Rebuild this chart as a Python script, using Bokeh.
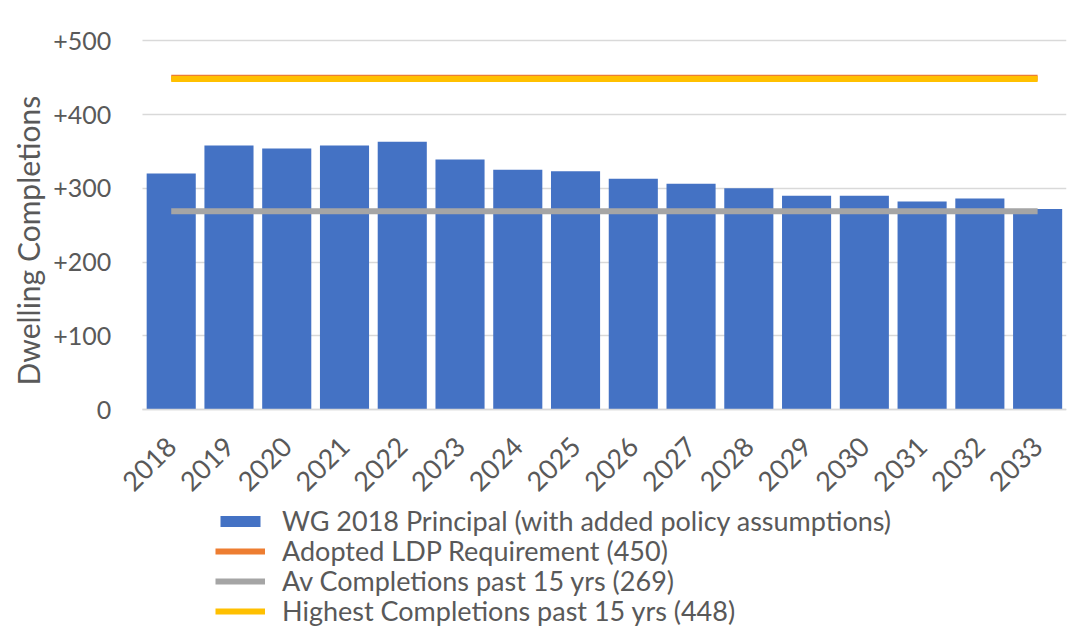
from math import pi
from bokeh.plotting import figure
from bokeh.models import Range1d, Legend, LegendItem, ColumnDataSource, Title, FixedTicker
from bokeh.embed import file_html
from bokeh.resources import INLINE

years = ["2018", "2019", "2020", "2021", "2022", "2023", "2024", "2025",
         "2026", "2027", "2028", "2029", "2030", "2031", "2032", "2033"]
wg_principal = [320, 358, 354, 358, 363, 339, 325, 323, 313, 306, 300, 290, 290, 282, 286, 272]
ldp_requirement = 450
av_completions = 269
highest_completions = 448
y_ticks = [0, 100, 200, 300, 400, 500]
y_tick_labels = ["0", "+100", "+200", "+300", "+400", "+500"]
legend_labels = ["WG 2018 Principal (with added policy assumptions)",
                 "Adopted LDP Requirement (450)",
                 "Av Completions past 15 yrs (269)",
                 "Highest Completions past 15 yrs (448)"]

FONT = "Lato"
TXT = "#595959"

idx = list(range(len(years)))
first, last = idx[0] - 0.5, idx[-1] + 0.5

# frame extends around the bars to hold the axis labels and the legend
p = figure(x_range=Range1d(-2.09, last), y_range=Range1d(-299.5, 541),
           width=1080, height=630,
           min_border_left=50, min_border_top=10, min_border_right=14, min_border_bottom=0,
           output_backend="svg", toolbar_location=None)

src = ColumnDataSource(dict(x=idx, top=wg_principal,
                            ldp=[ldp_requirement] * len(years),
                            av=[av_completions] * len(years),
                            hi=[highest_completions] * len(years)))

bars = p.vbar(x="x", top="top", bottom=0, width=0.85, source=src, fill_color="#4472C4", line_color=None)
ldp_r = p.line(x="x", y="ldp", source=src, line_color="#ED7D31", line_width=6)
av_r = p.line(x="x", y="av", source=src, line_color="#A5A5A5", line_width=6)
hi_r = p.line(x="x", y="hi", source=src, line_color="#FFC000", line_width=6)

p.outline_line_color = None
p.xgrid.grid_line_color = None
p.ygrid.grid_line_color = "#D9D9D9"
p.ygrid.grid_line_width = 1.5
p.ygrid.cross_bounds = (first, last)

p.yaxis.fixed_location = first
p.yaxis.ticker = FixedTicker(ticks=y_ticks)
p.yaxis.major_label_overrides = {t: l for t, l in zip(y_ticks, y_tick_labels)}
p.yaxis.axis_line_color = None
p.yaxis.major_tick_line_color = None
p.yaxis.minor_tick_line_color = None
p.yaxis.major_label_text_font = FONT
p.yaxis.major_label_text_font_size = "25px"
p.yaxis.major_label_text_color = TXT
p.yaxis.major_label_standoff = 25

ylab = Title(text="Dwelling Completions", align="left", offset=245,
             text_font=FONT, text_font_style="normal", text_font_size="30px",
             text_color=TXT)
p.add_layout(ylab, "left")

p.xaxis.fixed_location = 0
p.xaxis.bounds = (first, last)
p.xaxis.ticker = FixedTicker(ticks=idx)
p.xaxis.major_label_overrides = {i: y for i, y in zip(idx, years)}
p.xaxis.axis_line_color = "#D9D9D9"
p.xaxis.axis_line_width = 1.5
p.xaxis.major_tick_line_color = None
p.xaxis.minor_tick_line_color = None
p.xaxis.major_label_orientation = pi / 4
p.xaxis.major_label_text_font = FONT
p.xaxis.major_label_text_font_size = "27px"
p.xaxis.major_label_text_color = TXT
p.xaxis.major_label_standoff = 26

# one legend per entry so that the rows sit 30px apart
renderers = [bars, ldp_r, av_r, hi_r]
row_offsets = [93, 63, 33, 3]
for label, r, yoff in zip(legend_labels, renderers, row_offsets):
    lg = Legend(items=[LegendItem(label=label, renderers=[r])],
                orientation="vertical", location=(165, yoff))
    lg.label_text_font = FONT
    lg.label_text_font_size = "27px"
    lg.label_text_color = TXT
    lg.glyph_width = 50
    lg.glyph_height = 14
    lg.label_height = 20
    lg.spacing = 0
    lg.padding = 0
    lg.margin = 0
    lg.label_standoff = 17
    lg.border_line_color = None
    lg.background_fill_alpha = 0
    p.add_layout(lg, "center")

open("out.html", "w").write(file_html(p, INLINE))
